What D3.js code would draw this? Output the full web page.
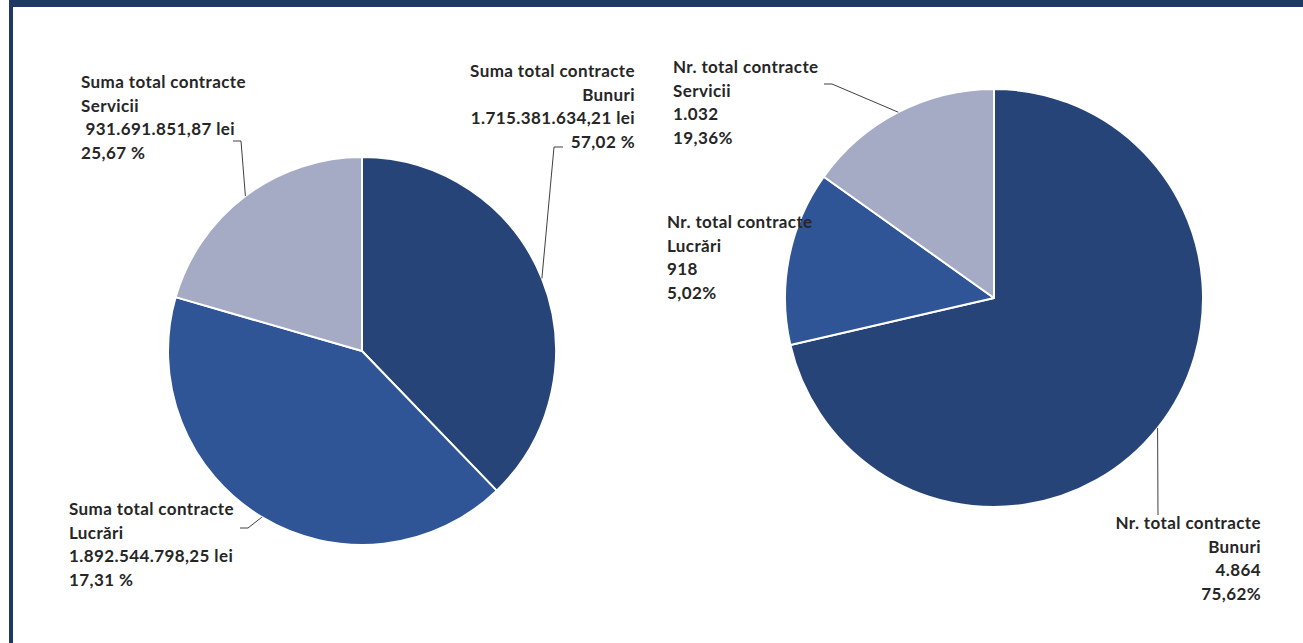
<!DOCTYPE html>
<html>
<head>
<meta charset="utf-8">
<script src="https://cdn.jsdelivr.net/npm/d3@7"></script>
<style>
  html, body { margin: 0; padding: 0; background: #fff; }
  svg { display: block; }
  .lbl { font-family: Lato, "Liberation Sans", sans-serif; font-weight: bold; font-size: 17px; letter-spacing: 0.4px; fill: #262626; }
  .leader { fill: none; stroke: #404040; stroke-width: 1; }
</style>
</head>
<body>
<div id="chart"></div>
<script>
// categories and values
var categories = ["Bunuri", "Lucrări", "Servicii"];
var sumValues = [1715381634.21, 1892544798.25, 931691851.87];
var countValues = [4864, 918, 1032];

// label texts as shown in the chart
var sumLabels = [
  ["Suma total contracte", "Bunuri", "1.715.381.634,21 lei", "57,02 %"],
  ["Suma total contracte", "Lucrări", "1.892.544.798,25 lei", "17,31 %"],
  ["Suma total contracte", "Servicii", " 931.691.851,87 lei", "25,67 %"]
];
var countLabels = [
  ["Nr. total contracte", "Bunuri", "4.864", "75,62%"],
  ["Nr. total contracte", "Lucrări", "918", "5,02%"],
  ["Nr. total contracte", "Servicii", "1.032", "19,36%"]
];

var colors = ["#264478", "#2F5597", "#A5ABC4"];

var W = 1303, H = 643;
var svg = d3.select("#chart").append("svg").attr("width", W).attr("height", H);

// frame
svg.append("rect").attr("x", 9).attr("y", 0).attr("width", W - 9).attr("height", 7).attr("fill", "#203864");
svg.append("rect").attr("x", 9).attr("y", 0).attr("width", 4).attr("height", H).attr("fill", "#203864");

// draw one pie with its labels
function drawPie(values, labels, cx, cy, r, labelPos) {
  var color = d3.scaleOrdinal().domain(categories).range(colors);
  var pie = d3.pie().sort(null).value(function(d) { return d.value; });
  var arc = d3.arc().innerRadius(0).outerRadius(r);

  var data = categories.map(function(c, i) { return { name: c, value: values[i], label: labels[i] }; });
  var arcs = pie(data);

  var g = svg.append("g").attr("transform", "translate(" + cx + "," + cy + ")");
  g.selectAll("path")
    .data(arcs)
    .enter()
    .append("path")
    .attr("d", arc)
    .attr("fill", function(d) { return color(d.data.name); })
    .attr("stroke", "#fff")
    .attr("stroke-width", 2)
    .attr("stroke-linejoin", "round");

  arcs.forEach(function(d, i) {
    var lp = labelPos[i];
    var mid = (d.startAngle + d.endAngle) / 2;
    var px = cx + r * Math.sin(mid), py = cy - r * Math.cos(mid);

    // leader line
    if (lp.line) {
      svg.append("polyline")
        .attr("class", "leader")
        .attr("points", [[px, py]].concat(lp.line).map(function(p) { return p.join(","); }).join(" "));
    }

    var t = svg.append("text")
      .attr("class", "lbl")
      .attr("text-anchor", lp.anchor);
    d.data.label.forEach(function(line, k) {
      t.append("tspan")
        .attr("x", lp.x)
        .attr("y", lp.y + k * 23.5)
        .attr("xml:space", "preserve")
        .text(line);
    });
  });
}

drawPie(sumValues, sumLabels, 362, 351, 194, [
  { x: 635, y: 77, anchor: "end", line: [[554, 147], [563, 147]] },
  { x: 69, y: 515, anchor: "start", line: [[248, 528], [240, 528]] },
  { x: 81, y: 88, anchor: "start", line: [[241, 141], [233, 141]] }
]);

drawPie(countValues, countLabels, 994, 298, 209, [
  { x: 1261, y: 529, anchor: "end", line: [[1158, 515]] },
  { x: 667, y: 228, anchor: "start", line: null },
  { x: 673, y: 73, anchor: "start", line: [[832, 84], [824, 84]] }
]);
</script>
</body>
</html>
